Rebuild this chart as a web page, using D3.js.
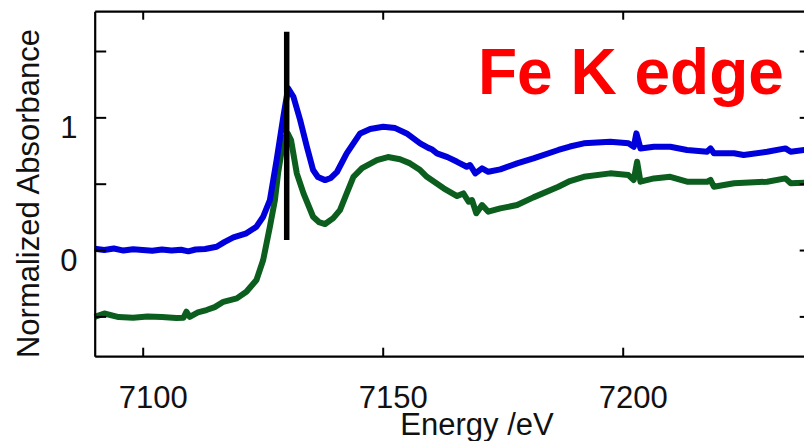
<!DOCTYPE html>
<html>
<head>
<meta charset="utf-8">
<script src="https://cdn.jsdelivr.net/npm/d3@7"></script>
<style>
  body { margin: 0; background: #fff; }
  svg { display: block; font-family: "Liberation Sans", Arial, sans-serif; }
</style>
</head>
<body>
<svg id="chart" width="804" height="441"></svg>
<script>
// --- Données ---
const energyTicks = [7100, 7150, 7200];
const absTicks = [-0.5, 0, 0.5, 1, 1.5];
const absLabels = [0, 1];
const edgeEnergy = 7130;
const edgeRange = [0.075, 1.645];

// spectre bleu (E en eV, absorbance normalisée)
const blueE = [7090, 7092, 7094, 7096, 7098, 7100, 7102, 7104, 7106, 7108, 7109.5, 7111, 7113, 7115.4,
  7117, 7118.9, 7121.6, 7123.7, 7125.1, 7126.5, 7127.9, 7129.3, 7130.3, 7131.4, 7132.8, 7134.2, 7135.5,
  7136.5, 7138, 7139.2, 7140.5, 7142.5, 7145.3, 7147.4, 7150.1, 7152.6, 7155, 7157.8, 7159.5, 7160.2, 7161.3, 7163.5, 7165.5,
  7167.5, 7168.2, 7169.3, 7170.7, 7172, 7174.5, 7178, 7181.4, 7186.6, 7189, 7191.9, 7197.4, 7201.2,
  7202.3, 7202.85, 7203.7, 7206.5, 7209.9, 7213.4, 7217.6, 7218.3, 7219, 7223.2, 7225.2, 7230.1,
  7233.9, 7235, 7237.9];
const blueA = [0.01, 0.0, 0.012, -0.004, 0.006, 0.0, -0.006, 0.004, -0.004, 0.002, -0.01, 0.004, 0.008, 0.025,
  0.06, 0.096, 0.126, 0.176, 0.251, 0.377, 0.678, 1.005, 1.219, 1.155, 0.98, 0.778, 0.603,
  0.55, 0.527, 0.543, 0.59, 0.729, 0.879, 0.912, 0.929, 0.919, 0.879, 0.804, 0.77, 0.76, 0.729, 0.7, 0.665,
  0.628, 0.641, 0.578, 0.616, 0.59, 0.608, 0.653, 0.691, 0.754, 0.78, 0.804, 0.816, 0.804,
  0.778, 0.879, 0.766, 0.778, 0.778, 0.754, 0.741, 0.766, 0.729, 0.729, 0.716, 0.741,
  0.766, 0.741, 0.754];

// spectre vert
const greenE = [7090, 7092, 7095, 7098, 7101, 7104, 7107, 7108.5, 7109.1, 7109.8, 7111.5, 7113.3, 7115, 7116.8,
  7119.6, 7121.6, 7123.7, 7125.1, 7126.5, 7127.55, 7128.2, 7129.3, 7130.2, 7130.9, 7132.1, 7133.5,
  7135.5, 7136.7, 7138, 7139.7, 7141.1, 7142.5, 7143.9, 7145.7, 7148.8, 7151.1, 7153.6, 7155.7,
  7157.8, 7159.2, 7162.7, 7165.5, 7166.8, 7167.9, 7168.6, 7169.5, 7170.7, 7172, 7174.5, 7178,
  7181.4, 7186.6, 7189, 7191.9, 7197.4, 7201.2, 7202.3, 7203, 7203.7, 7206.5, 7209.9, 7213.4,
  7217.6, 7218.3, 7219, 7223.2, 7230.1, 7233.9, 7235, 7237.9];
const greenA = [-0.503, -0.478, -0.505, -0.51, -0.5, -0.505, -0.512, -0.51, -0.465, -0.503, -0.47, -0.452, -0.43, -0.39,
  -0.364, -0.314, -0.226, -0.075, 0.176, 0.377, 0.578, 0.829, 0.879, 0.829, 0.578, 0.427,
  0.251, 0.211, 0.196, 0.241, 0.301, 0.427, 0.552, 0.618, 0.678, 0.701, 0.684, 0.653,
  0.603, 0.552, 0.465, 0.407, 0.427, 0.364, 0.377, 0.277, 0.339, 0.289, 0.314, 0.339,
  0.397, 0.477, 0.52, 0.552, 0.578, 0.565, 0.528, 0.665, 0.515, 0.54, 0.552, 0.515,
  0.515, 0.528, 0.477, 0.503, 0.515, 0.54, 0.503, 0.507];

const svg = d3.select("#chart");

const plotLeft = 94.7, plotTop = 11.2, plotBottom = 356.2;

const x = d3.scaleLinear().domain([7090, 7240]).range([plotLeft, 814.7]);
const y = d3.scaleLinear().domain([-0.8, 1.8]).range([plotBottom, plotTop]);

// Courbes
const line = d3.line()
  .x(d => x(d[0]))
  .y(d => y(d[1]));

svg.append("path")
  .datum(d3.zip(greenE, greenA))
  .attr("d", line)
  .attr("fill", "none")
  .attr("stroke", "#0b5e1e")
  .attr("stroke-width", 6)
  .attr("stroke-linejoin", "round");

svg.append("path")
  .datum(d3.zip(blueE, blueA))
  .attr("d", line)
  .attr("fill", "none")
  .attr("stroke", "#0000dc")
  .attr("stroke-width", 6)
  .attr("stroke-linejoin", "round");

// Ligne verticale du seuil
svg.append("line")
  .attr("x1", x(edgeEnergy))
  .attr("x2", x(edgeEnergy))
  .attr("y1", y(edgeRange[1]))
  .attr("y2", y(edgeRange[0]))
  .attr("stroke", "black")
  .attr("stroke-width", 5.5);

// Axes (cadre avec graduations vers l'intérieur)
const gBottom = svg.append("g")
  .attr("transform", `translate(0,${plotBottom})`)
  .call(d3.axisBottom(x).tickValues(energyTicks).tickSize(-8.5).tickSizeOuter(0).tickFormat(""));
const gTop = svg.append("g")
  .attr("transform", `translate(0,${plotTop})`)
  .call(d3.axisTop(x).tickValues(energyTicks).tickSize(-8.5).tickSizeOuter(0).tickFormat(""));
const gLeft = svg.append("g")
  .attr("transform", `translate(${plotLeft},0)`)
  .call(d3.axisLeft(y).tickValues(absTicks).tickSize(-11.5).tickSizeOuter(0).tickFormat(""));
const gRight = svg.append("g")
  .attr("transform", `translate(${x(7240) - 2},0)`)
  .call(d3.axisRight(y).tickValues(absTicks).tickSize(-13).tickSizeOuter(0).tickFormat(""));

[gBottom, gTop, gLeft, gRight].forEach(g => {
  g.select(".domain").attr("stroke", "black").attr("stroke-width", 2.2);
  g.selectAll(".tick line").attr("stroke", "black").attr("stroke-width", 2);
});

// Étiquettes des graduations
svg.selectAll(".xlabel")
  .data(energyTicks)
  .enter()
  .append("text")
  .attr("class", "xlabel")
  .attr("x", d => x(d) + 10.5)
  .attr("y", 407.5)
  .attr("text-anchor", "middle")
  .attr("font-size", 31)
  .attr("fill", "#111")
  .text(d => d);

svg.selectAll(".ylabel")
  .data(absLabels)
  .enter()
  .append("text")
  .attr("class", "ylabel")
  .attr("x", 77.5)
  .attr("y", d => y(d) + 21)
  .attr("text-anchor", "end")
  .attr("font-size", 31)
  .attr("fill", "#111")
  .text(d => d);

// Titres des axes
svg.append("text")
  .attr("x", 477)
  .attr("y", 435)
  .attr("text-anchor", "middle")
  .attr("font-size", 31)
  .attr("fill", "#111")
  .text("Energy /eV");

svg.append("text")
  .attr("transform", "translate(39,193.5) rotate(-90)")
  .attr("text-anchor", "middle")
  .attr("font-size", 31)
  .attr("fill", "#111")
  .text("Normalized Absorbance");

// Annotation
svg.append("text")
  .attr("x", 478)
  .attr("y", 94)
  .attr("font-size", 64)
  .attr("font-weight", "bold")
  .attr("fill", "#ff0000")
  .text("Fe K edge");
</script>
</body>
</html>
